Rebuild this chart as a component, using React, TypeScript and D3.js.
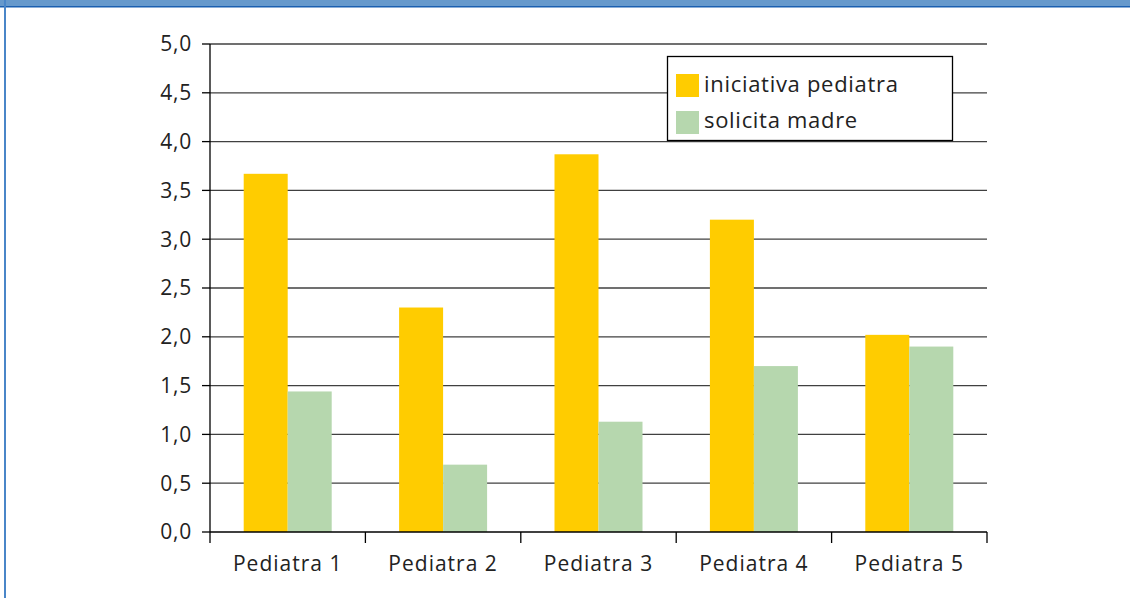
import React from "react";
import * as d3 from "d3";

const categories = ["Pediatra 1", "Pediatra 2", "Pediatra 3", "Pediatra 4", "Pediatra 5"];
const seriesNames = ["iniciativa pediatra", "solicita madre"];
const iniciativa = [3.67, 2.3, 3.87, 3.2, 2.02];
const solicita = [1.44, 0.69, 1.13, 1.7, 1.9];
const yTicks = [0, 0.5, 1, 1.5, 2, 2.5, 3, 3.5, 4, 4.5, 5];
const colors = ["#ffcc00", "#b6d7ae"];

export default function App() {
  const W = 1130, H = 598;
  const left = 210, right = 987, top = 44, bottom = 532;
  const y = d3.scaleLinear().domain([0, 5]).range([bottom, top]);
  const x = d3.scaleBand().domain(categories).range([left, right]).paddingInner(0).paddingOuter(0);
  const bw = x.bandwidth();
  const barW = 44;
  const off = (bw - 2 * barW) / 2;
  const series = [iniciativa, solicita];
  const font = "'Open Sans', sans-serif";
  const fmt = (v: number) => v.toFixed(1).replace(".", ",");
  return (
    <svg width={W} height={H} style={{ position: "absolute", left: 0, top: 0, background: "#fff" }}>
      <rect x={0} y={0} width={W} height={6} fill="#6699cc" />
      <rect x={0} y={6} width={W} height={1.5} fill="#1a5fb0" />
      <rect x={4} y={0} width={2} height={H} fill="#4a86c8" />
      {yTicks.map((t) => (
        <g key={t}>
          {t > 0 && <line x1={left} x2={right} y1={y(t)} y2={y(t)} stroke="#404040" strokeWidth={1.3} />}
          <line x1={left - 8} x2={left} y1={y(t)} y2={y(t)} stroke="#000" strokeWidth={1.3} />
          <text x={left - 18} y={y(t)} dy="0.35em" textAnchor="end" fontFamily={font} fontSize={21} letterSpacing={0.8} fill="#222">{fmt(t)}</text>
        </g>
      ))}
      {categories.map((c, i) => (
        <g key={c}>
          {series.map((s, j) => (
            <rect key={j} x={(x(c) as number) + off + j * barW} y={y(s[i])} width={barW} height={y(0) - y(s[i])} fill={colors[j]} />
          ))}
          <text x={(x(c) as number) + bw / 2} y={bottom + 39} textAnchor="middle" fontFamily={font} fontSize={21} letterSpacing={1} fill="#222">{c}</text>
        </g>
      ))}
      <line x1={left} x2={left} y1={top} y2={bottom + 11} stroke="#000" strokeWidth={1.3} />
      <line x1={left} x2={right} y1={bottom} y2={bottom} stroke="#000" strokeWidth={1.3} />
      {categories.map((c) => (
        <line key={c} x1={(x(c) as number) + bw} x2={(x(c) as number) + bw} y1={bottom} y2={bottom + 11} stroke="#000" strokeWidth={1.3} />
      ))}
      <g>
        <rect x={667.5} y={56.5} width={285} height={84} fill="#fff" stroke="#000" strokeWidth={1.3} />
        {seriesNames.map((n, j) => (
          <g key={n}>
            <rect x={676} y={74 + j * 37} width={23} height={23} fill={colors[j]} />
            <text x={704} y={92 + j * 35.5} fontFamily={font} fontSize={22} letterSpacing={0.7} fill="#222">{n}</text>
          </g>
        ))}
      </g>
    </svg>
  );
}
